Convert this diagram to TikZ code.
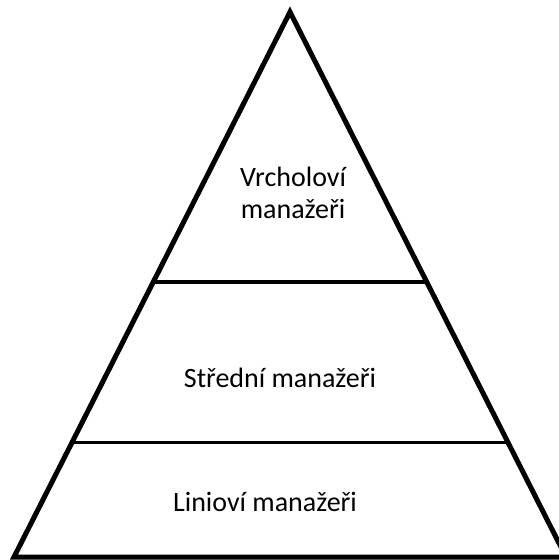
\documentclass[tikz,border=0pt]{standalone}
\usepackage{fontspec}
\setmainfont{Carlito}
\usepackage{tikz}
\usetikzlibrary{calc}

\begin{document}
\begin{tikzpicture}[x=0.5pt,y=-0.5pt]
\useasboundingbox (0,0) rectangle (558,560);
\coordinate (apex) at (290,12);
\coordinate (bl) at (14,557);
\coordinate (br) at (566,557);
\draw[line width=2.5pt,line join=miter] (apex)--(bl)--(br)--cycle;
\draw[line width=1.8pt] ($(apex)!0.495!(bl)$)--($(apex)!0.495!(br)$);
\draw[line width=1.8pt] ($(apex)!0.79!(bl)$)--($(apex)!0.79!(br)$);
\node[font=\fontsize{14}{16}\selectfont,align=center] (top) at (293,193) {Vrcholoví\\manažeři};
\node[font=\fontsize{14}{16}\selectfont] (mid) at (280,378) {Střední manažeři};
\node[font=\fontsize{14}{16}\selectfont] (low) at (265,502) {Linioví manažeři};
\end{tikzpicture}
\end{document}
